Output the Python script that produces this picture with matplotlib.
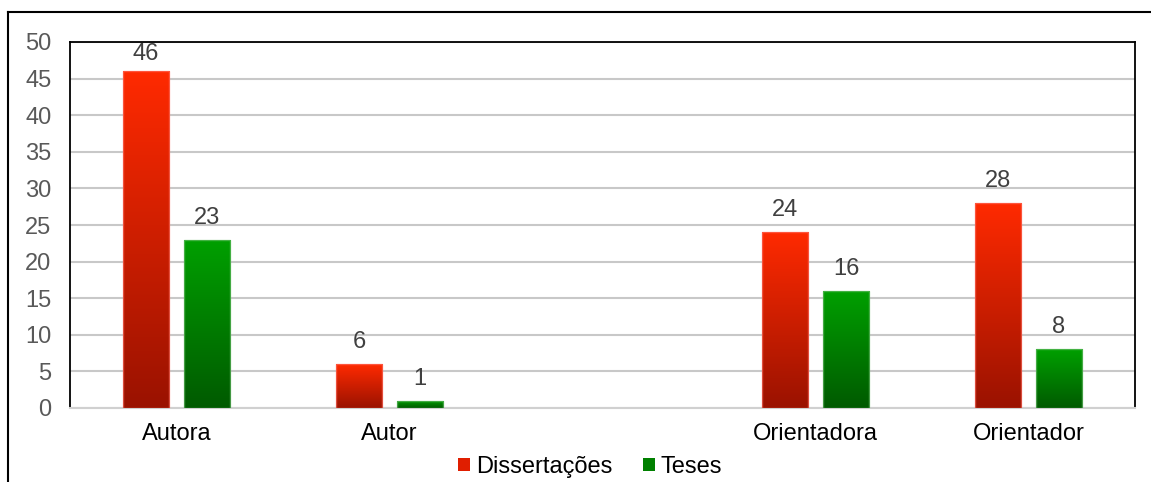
import numpy as np
import matplotlib
matplotlib.use("Agg")
import matplotlib.pyplot as plt
from matplotlib.colors import LinearSegmentedColormap
from matplotlib.patches import Rectangle
from matplotlib.lines import Line2D

plt.rcParams['font.family'] = ['Liberation Sans', 'DejaVu Sans']

categories = ["Autora", "Autor", "", "Orientadora", "Orientador"]
dissertacoes = [46, 6, None, 24, 28]
teses = [23, 1, None, 16, 8]
series_names = ["Dissertações", "Teses"]
yticks = [0, 5, 10, 15, 20, 25, 30, 35, 40, 45, 50]

red_cmap = LinearSegmentedColormap.from_list("red", ["#9a1200", "#ff2a00"])
green_cmap = LinearSegmentedColormap.from_list("green", ["#005a00", "#00a000"])

W, H = 1151, 482
fig = plt.figure(figsize=(W / 100, H / 100), dpi=100)
ax = fig.add_axes([70 / W, 1 - 408 / H, (1135 - 70) / W, (408 - 42) / H])

x = np.arange(len(categories))
bar_w = 0.22
offset = 0.143
grad = np.linspace(0, 1, 256).reshape(-1, 1)
FS = 17
label_gap = 2.2       # baseline distance above the bar, in data units
label_ceiling = 47.5  # labels are kept inside the plot area


def gradient_bar(xc, val, cmap, edge):
    rect = Rectangle((xc - bar_w / 2, 0), bar_w, val, facecolor="none",
                     edgecolor=edge, linewidth=1.0, zorder=4)
    ax.add_patch(rect)
    im = ax.imshow(grad, cmap=cmap, origin="lower", aspect="auto",
                   extent=(xc - bar_w / 2, xc + bar_w / 2, 0, val), zorder=3)
    im.set_clip_path(rect)
    ax.text(xc, min(val + label_gap, label_ceiling), f"{val}",
            ha="center", va="baseline", fontsize=FS, color="#404040", zorder=5)


for i, (d, t) in enumerate(zip(dissertacoes, teses)):
    if d is not None:
        gradient_bar(x[i] - offset, d, red_cmap, (1, 0.45, 0.4, 0.6))
    if t is not None:
        gradient_bar(x[i] + offset, t, green_cmap, (0.45, 0.75, 0.45, 0.6))

ax.set_xlim(-0.5, len(categories) - 0.5)
ax.set_ylim(0, 50)
ax.set_yticks(yticks)
ax.set_xticks(x)
ax.set_xticklabels(categories, fontsize=FS, color="black")
ax.tick_params(axis="y", labelsize=FS, labelcolor="#595959", length=0, pad=13.5)
ax.tick_params(axis="x", length=0, pad=11)
ax.yaxis.grid(True, color="#c8c8c8", linewidth=1.5, zorder=0)
ax.set_axisbelow(True)
for side in ["left", "top", "right"]:
    ax.spines[side].set_color("black")
    ax.spines[side].set_linewidth(1.3)
ax.spines["bottom"].set_color("#d0d0d0")
ax.spines["bottom"].set_linewidth(1.5)

# outer frame of the figure
fig.add_artist(Line2D([8 / W, 8 / W], [0, 1 - 12 / H], color="black",
                      linewidth=1.5, transform=fig.transFigure))
fig.add_artist(Line2D([8 / W, 1], [1 - 12 / H, 1 - 12 / H], color="black",
                      linewidth=1.5, transform=fig.transFigure))

handles = [Rectangle((0, 0), 1, 1, facecolor="#e01e00"),
           Rectangle((0, 0), 1, 1, facecolor="#008000")]
fig.legend(handles, series_names, loc="center", bbox_to_anchor=(590 / W, 1 - 467 / H),
           ncol=2, frameon=False, fontsize=FS, handlelength=0.5, handleheight=0.5,
           handletextpad=0.25, columnspacing=1.3, borderpad=0)

fig.savefig("out.png", dpi=100)
